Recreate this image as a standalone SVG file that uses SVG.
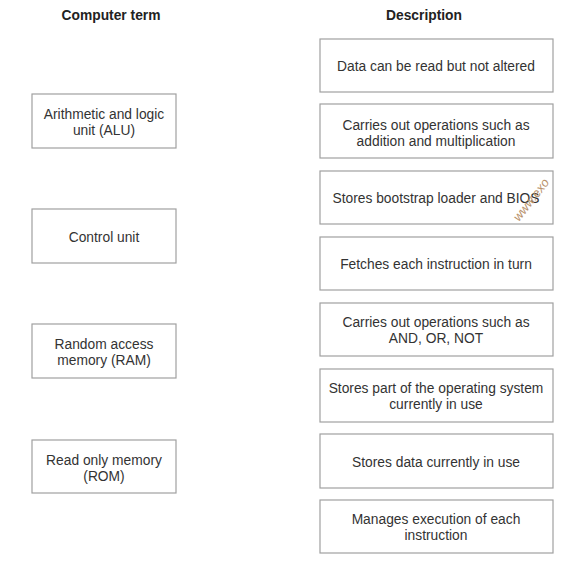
<svg xmlns="http://www.w3.org/2000/svg" width="564" height="568" viewBox="0 0 564 568">
<style>
.box{fill:#fff;stroke:#a0a0a0;stroke-width:1.2}
.t{font-family:"Liberation Sans",Arial,sans-serif;font-size:13.8px;fill:#333;text-anchor:middle}
.h{font-family:"Liberation Sans",Arial,sans-serif;font-size:13.8px;font-weight:bold;fill:#222;text-anchor:middle}
.wm{font-family:"Liberation Sans",Arial,sans-serif;font-size:12.5px;font-style:italic;fill:#b8916a}
</style>
<rect width="564" height="568" fill="#fff"/>
<text class="h" x="111" y="20">Computer term</text>
<text class="h" x="424" y="20">Description</text>
<g id="alu"><rect class="box" x="32" y="94" width="144" height="54"/><text class="t" x="104" y="119">Arithmetic and logic</text><text class="t" x="104" y="135">unit (ALU)</text></g>
<g id="cu"><rect class="box" x="32" y="209" width="144" height="54"/><text class="t" x="104" y="242">Control unit</text></g>
<g id="ram"><rect class="box" x="32" y="324" width="144" height="54"/><text class="t" x="104" y="349">Random access</text><text class="t" x="104" y="365">memory (RAM)</text></g>
<g id="rom"><rect class="box" x="32" y="440" width="144" height="53"/><text class="t" x="104" y="465">Read only memory</text><text class="t" x="104" y="481">(ROM)</text></g>
<g id="d1"><rect class="box" x="320" y="39" width="233" height="53"/><text class="t" x="436" y="71">Data can be read but not altered</text></g>
<g id="d2"><rect class="box" x="320" y="104" width="233" height="54"/><text class="t" x="436" y="130">Carries out operations such as</text><text class="t" x="436" y="146">addition and multiplication</text></g>
<g id="d3"><rect class="box" x="320" y="171" width="233" height="53"/><text class="t" x="436" y="203">Stores bootstrap loader and BIOS</text></g>
<g id="d4"><rect class="box" x="320" y="237" width="233" height="53"/><text class="t" x="436" y="269">Fetches each instruction in turn</text></g>
<g id="d5"><rect class="box" x="320" y="303" width="233" height="53"/><text class="t" x="436" y="327">Carries out operations such as</text><text class="t" x="436" y="343">AND, OR, NOT</text></g>
<g id="d6"><rect class="box" x="320" y="369" width="233" height="53"/><text class="t" x="436" y="393">Stores part of the operating system</text><text class="t" x="436" y="409">currently in use</text></g>
<g id="d7"><rect class="box" x="320" y="434" width="233" height="54"/><text class="t" x="436" y="467">Stores data currently in use</text></g>
<g id="d8"><rect class="box" x="320" y="500" width="233" height="53"/><text class="t" x="436" y="524">Manages execution of each</text><text class="t" x="436" y="540">instruction</text></g>
<g id="connectors"></g>
<text class="wm" transform="translate(519,222) rotate(-52)">www.exo</text>
</svg>
